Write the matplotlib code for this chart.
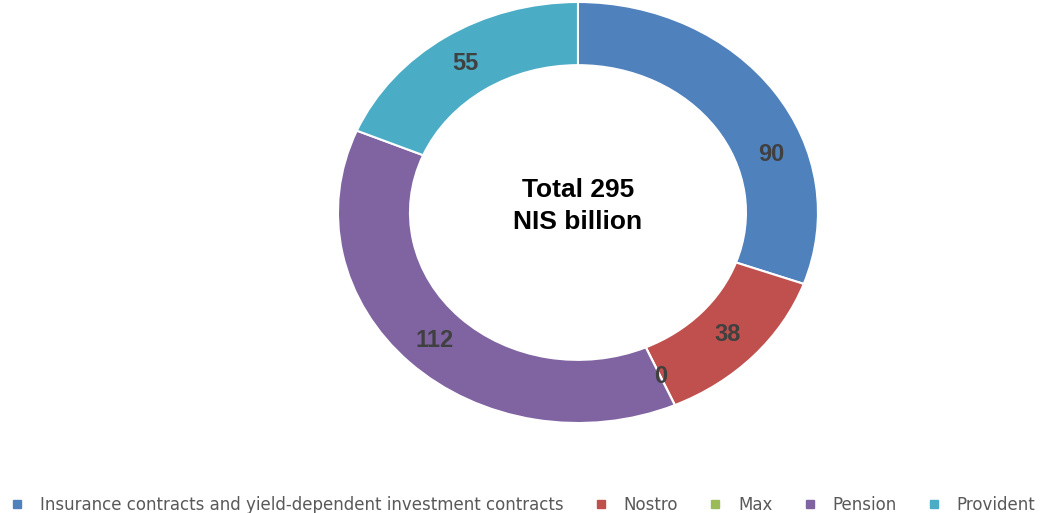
import numpy as np
import matplotlib
matplotlib.use("Agg")
import matplotlib.pyplot as plt
from matplotlib.lines import Line2D

plt.rcParams['font.family'] = ['Liberation Sans', 'DejaVu Sans']

# Portfolio split, NIS billion
categories = ['Insurance contracts and yield-dependent investment contracts',
              'Nostro', 'Max', 'Pension', 'Provident']
values = [90, 38, 0, 112, 55]
colours = ['#4F81BD', '#C0504D', '#9BBB59', '#8064A2', '#4BACC6']
center_text = 'Total 295\nNIS billion'

fig = plt.figure(figsize=(10.46, 5.13), dpi=100)
ax = fig.add_axes([0.3231, 0.1754, 0.4589, 0.8207])

wedges, _ = ax.pie(values, colors=colours, startangle=90, counterclock=False,
                   radius=1.0,
                   wedgeprops=dict(width=0.3, edgecolor='white', linewidth=1.5))
ax.set_aspect('auto')
ax.set_xlim(-1, 1)
ax.set_ylim(-1, 1)

# value labels in the middle of the ring
nudge = [-16, 0, 0, 0, 0]
for w, v, dn in zip(wedges, values, nudge):
    ang = np.deg2rad((w.theta1 + w.theta2) / 2 + dn)
    r = 0.85
    ax.text(r * np.cos(ang), r * np.sin(ang), str(v), ha='center', va='center',
            fontsize=17, fontweight='bold', color='#404040')

ax.text(0, 0.03, center_text, ha='center', va='center', fontsize=19,
        fontweight='bold', color='black', linespacing=1.4)

handles = [Line2D([], [], marker='s', linestyle='none', markersize=6,
                  markerfacecolor=c, markeredgecolor=c) for c in colours]
fig.legend(handles, categories, loc='center', bbox_to_anchor=(0.5, 0.016),
           ncol=5, frameon=False, labelcolor='#595959',
           prop=dict(family='DejaVu Sans', size=12),
           handletextpad=0.95, columnspacing=1.85, handlelength=0.8)

fig.savefig('out.png', dpi=100)
